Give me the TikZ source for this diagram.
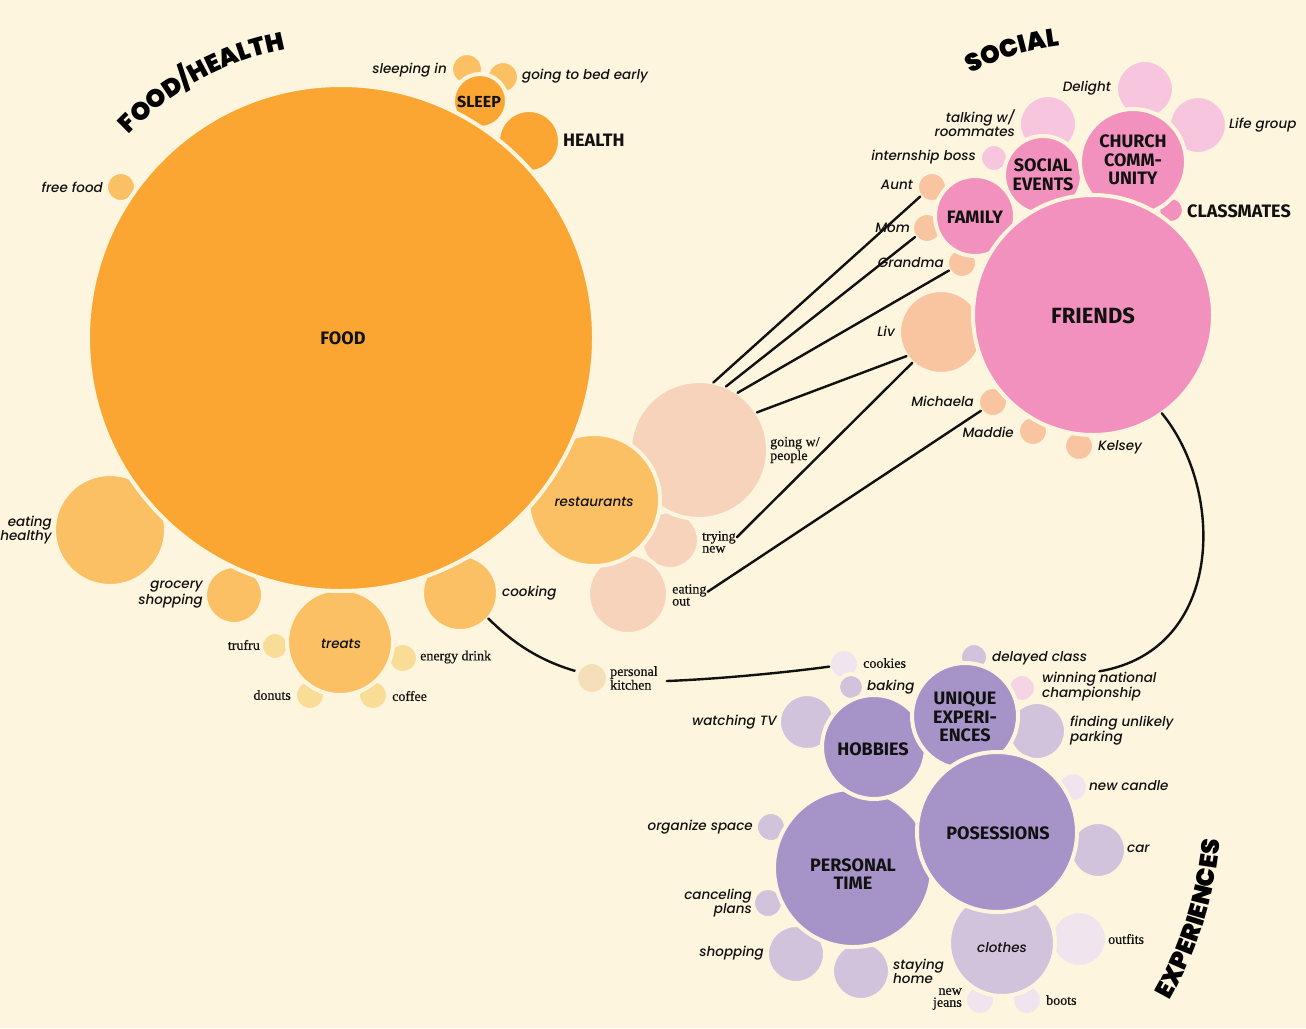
\documentclass[tikz,border=0pt]{standalone}
\usepackage{fontspec}
\setmainfont{Fira Sans}
\newfontfamily\popf{Poppins}[ItalicFont={Poppins Medium Italic}]
\newfontfamily\firaf{Fira Sans}
\newfontfamily\serf{Liberation Serif}[FakeBold=0.5]
\newfontfamily\titlefont{Poppins Black}
\newcommand\titlefs{\titlefont\fontsize{25}{25}\selectfont}
\usetikzlibrary{decorations.text}
\definecolor{bg}{HTML}{FEF5DF}
\definecolor{ink}{HTML}{111111}
\definecolor{o1}{HTML}{FBA632}
\definecolor{o2}{HTML}{FBC064}
\definecolor{o3}{HTML}{F9DD97}
\definecolor{pe}{HTML}{F8D3BC}
\definecolor{kit}{HTML}{F4DFB8}
\definecolor{pk1}{HTML}{F391BE}
\definecolor{pk2}{HTML}{F8C5DE}
\definecolor{pe2}{HTML}{F9C4A0}
\definecolor{pu1}{HTML}{A693C7}
\definecolor{pu2}{HTML}{D1C3DB}
\definecolor{pu3}{HTML}{F0E5EE}
\definecolor{win}{HTML}{F5D4E6}
\tikzset{
  bub/.style={circle, draw=bg, line width=4pt, inner sep=0pt, outer sep=0pt, minimum size={2*#1pt+4pt}},
  it/.style={font=\popf\itshape\fontsize{13.5}{14}\selectfont, inner sep=1pt, text=ink},
  sf/.style={font=\serf\fontsize{14}{12}\selectfont, inner sep=1pt, text=ink},
  bd/.style={font=\firaf\bfseries\fontsize{18}{18.5}\selectfont, inner sep=1pt, text=ink, align=center},
  conn/.style={draw=ink, line width=2.4pt, line cap=round},
  ttl/.style={decorate, decoration={text along path, text align=center, text={|\titlefs|#1}}},
}
\begin{document}
\begin{tikzpicture}[x=1pt,y=1pt]
\fill[bg] (0,0) rectangle (1306,-1028);
\useasboundingbox (0,0) rectangle (1306,-1028);

% ---------- FOOD / HEALTH ----------
\node[bub=14, fill=o2] (sleepin) at (467,-69) {};
\node[bub=14, fill=o2] (bedearly) at (503,-77) {};
\node[bub=13, fill=o2] (freefood) at (121,-187) {};
\node[bub=12, fill=o3] (trufru) at (275,-646) {};
\node[bub=13, fill=o3] (energy) at (403,-658) {};
\node[bub=13, fill=o3] (donuts) at (310,-695) {};
\node[bub=13, fill=o3] (coffee) at (373,-695) {};
\node[bub=27, fill=pe] (tryingnew) at (670,-540) {};
\node[bub=38, fill=pe] (eatingout) at (628,-594) {};
\node[bub=67, fill=pe] (gwp) at (699,-450) {};
\node[bub=54, fill=o2] (eathealthy) at (110,-530) {};
\node[bub=27, fill=o2] (grocery) at (234,-595) {};
\node[bub=51, fill=o2] (treats) at (340,-642) {};
\node[bub=36, fill=o2] (cooking) at (460,-593) {};
\node[bub=25, fill=o1] (sleep) at (480,-101) {};
\node[bub=29, fill=o1] (health) at (529,-141) {};
\node[bub=64, fill=o2] (restaurants) at (594,-500) {};
\node[bub=251, fill=o1] (food) at (341,-338) {};

% kitchen: label, curve under circle, circle
\node[sf, anchor=west, align=left] (l-kitchen) at (609,-678) {personal\\kitchen};
\draw[conn] (cooking.-42) .. controls (515,-645) and (550,-670) .. (l-kitchen.west);
\node[bub=14, fill=kit] (kitchen) at (592,-678) {};

% ---------- SOCIAL ----------
\node[bub=12, fill=pk2] (internboss) at (994,-158) {};
\node[bub=27, fill=pk2] (talking) at (1048,-124) {};
\node[bub=27, fill=pk2] (delight) at (1145,-89) {};
\node[bub=27, fill=pk2] (lifegroup) at (1198,-125) {};
\node[bub=13, fill=pe2] (aunt) at (932,-187) {};
\node[bub=13, fill=pe2] (mom) at (927,-228) {};
\node[bub=13, fill=pe2] (grandma) at (962,-263) {};
\node[bub=40, fill=pe2] (liv) at (941,-332) {};
\node[bub=13, fill=pe2] (michaela) at (993,-402) {};
\node[bub=13, fill=pe2] (maddie) at (1033,-431) {};
\node[bub=13, fill=pe2] (kelsey) at (1079,-446) {};
\node[bub=11, fill=pk1] (classmates) at (1171,-210) {};
\node[bub=38, fill=pk1] (family) at (975,-216) {};
\node[bub=37, fill=pk1] (socialev) at (1043,-175) {};
\node[bub=51, fill=pk1] (church) at (1133,-162) {};
\node[bub=118, fill=pk1] (friends) at (1093,-315) {};

% ---------- EXPERIENCES ----------
\node[bub=13, fill=pu3] (cookies) at (844,-664) {};
\node[bub=11, fill=pu2] (baking) at (851,-687) {};
\node[bub=26, fill=pu2] (watchtv) at (807,-722) {};
\node[bub=12, fill=pu2] (delayed) at (974,-657) {};
\node[bub=12, fill=win] (winning) at (1022,-688) {};
\node[bub=27, fill=pu2] (parking) at (1037,-731) {};
\node[bub=13, fill=pu3] (newcandle) at (1073,-787) {};
\node[bub=26, fill=pu2] (car) at (1098,-850) {};
\node[bub=13, fill=pu2] (organize) at (771,-827) {};
\node[bub=13, fill=pu2] (canceling) at (768,-903) {};
\node[bub=27, fill=pu2] (shopping) at (796,-954) {};
\node[bub=27, fill=pu2] (staying) at (861,-971) {};
\node[bub=26, fill=pu3] (outfits) at (1079,-939) {};
\node[bub=13, fill=pu3] (newjeans) at (980,-1000) {};
\node[bub=13, fill=pu3] (boots) at (1027,-1000) {};
\node[bub=51, fill=pu2] (clothes) at (1002,-943) {};
\node[bub=77, fill=pu1] (ptime) at (853,-868) {};
\node[bub=50, fill=pu1] (hobbies) at (874,-747) {};
\node[bub=51, fill=pu1] (unique) at (965,-716) {};
\node[bub=78, fill=pu1] (posessions) at (997,-832) {};

% ---------- labels ----------
\node[it, anchor=east] (l-sleepin) at (448,-70) {sleeping in};
\node[it, anchor=west] (l-bedearly) at (521,-76) {going to bed early};
\node[bd, anchor=west] (l-health) at (562,-140) {HEALTH};
\node[bd, font=\firaf\bfseries\fontsize{16}{16}\selectfont] (l-sleep) at (479,-102) {SLEEP};
\node[it, anchor=east] (l-freefood) at (104,-187) {free food};
\node[bd] (l-food) at (343,-338) {FOOD};
\node[it, anchor=east, align=right] (l-eathealthy) at (53,-530) {eating\\healthy};
\node[it, anchor=east, align=right, font=\popf\itshape\fontsize{13.5}{16}\selectfont] (l-grocery) at (204,-595) {grocery\\shopping};
\node[it] (l-treats) at (341,-644) {treats};
\node[sf, anchor=east] (l-trufru) at (261,-645) {trufru};
\node[sf, anchor=west] (l-energy) at (419,-657) {energy drink};
\node[sf, anchor=east] (l-donuts) at (292,-695) {donuts};
\node[sf, anchor=west] (l-coffee) at (391,-696) {coffee};
\node[it, anchor=west] (l-cooking) at (501,-593) {cooking};
\node[it] (l-restaurants) at (594,-502) {restaurants};
\node[sf, anchor=west, align=left] (l-gwp) at (769,-450) {going w/\\people};
\node[sf, anchor=west, align=left] (l-tryingnew) at (701,-542) {trying\\new};
\node[sf, anchor=west, align=left] (l-eatingout) at (671,-595) {eating\\out};

\node[it, anchor=east] (l-delight) at (1112,-88) {Delight};
\node[it, anchor=west] (l-lifegroup) at (1228,-125) {Life group};
\node[it, anchor=east, align=right, font=\popf\itshape\fontsize{13.5}{12.5}\selectfont] (l-talking) at (1016,-123) {talking w/\\roommates};
\node[it, anchor=east] (l-internboss) at (977,-157) {internship boss};
\node[bd] (l-socialev) at (1043,-175) {SOCIAL\\EVENTS};
\node[bd] (l-church) at (1133,-160) {CHURCH\\COMM-\\UNITY};
\node[bd, anchor=west] (l-classmates) at (1186,-211) {CLASSMATES};
\node[it, anchor=east] (l-aunt) at (914,-185) {Aunt};
\node[it, anchor=east] (l-mom) at (911,-228) {Mom};
\node[bd] (l-family) at (975,-217) {FAMILY};
\node[it, anchor=east] (l-grandma) at (945,-263) {Grandma};
\node[bd, font=\firaf\bfseries\fontsize{22}{22}\selectfont] (l-friends) at (1093,-316) {FRIENDS};
\node[it, anchor=east] (l-liv) at (896,-331) {Liv};
\node[it, anchor=east] (l-michaela) at (975,-401) {Michaela};
\node[it, anchor=east] (l-maddie) at (1015,-432) {Maddie};
\node[it, anchor=west] (l-kelsey) at (1097,-447) {Kelsey};

\node[sf, anchor=west] (l-cookies) at (862,-663) {cookies};
\node[it, anchor=west] (l-baking) at (866,-687) {baking};
\node[it, anchor=west] (l-delayed) at (991,-658) {delayed class};
\node[it, anchor=west, align=left, font=\popf\itshape\fontsize{13.5}{13}\selectfont] (l-winning) at (1041,-687) {winning national\\championship};
\node[it, anchor=east] (l-watchtv) at (778,-722) {watching TV};
\node[bd] (l-hobbies) at (873,-749) {HOBBIES};
\node[bd] (l-unique) at (965,-717) {UNIQUE\\EXPERI-\\ENCES};
\node[it, anchor=west, align=left] (l-parking) at (1069,-731) {finding unlikely\\parking};
\node[it, anchor=west] (l-newcandle) at (1088,-786) {new candle};
\node[bd] (l-posessions) at (998,-833) {POSESSIONS};
\node[it, anchor=west] (l-car) at (1126,-849) {car};
\node[it, anchor=east] (l-organize) at (754,-827) {organize space};
\node[bd] (l-ptime) at (853,-874) {PERSONAL\\TIME};
\node[it, anchor=east, align=right, font=\popf\itshape\fontsize{13.5}{12.5}\selectfont] (l-canceling) at (753,-903) {canceling\\plans};
\node[it, anchor=east] (l-shopping) at (765,-953) {shopping};
\node[it, anchor=west, align=left] (l-staying) at (892,-971) {staying\\home};
\node[it] (l-clothes) at (1002,-948) {clothes};
\node[sf, anchor=west] (l-outfits) at (1107,-939) {outfits};
\node[sf, anchor=east, align=right] (l-newjeans) at (963,-999) {new\\jeans};
\node[sf, anchor=west] (l-boots) at (1045,-1000) {boots};

% ---------- connectors ----------
\draw[conn] (gwp.78) -- (aunt.219);
\draw[conn] (gwp.67) -- (mom.217);
\draw[conn] (gwp.56) -- (grandma.210);
\draw[conn] (gwp.33) -- (liv.215);
\draw[conn] (l-tryingnew.15) -- (liv.227);
\draw[conn] (l-eatingout.10) -- (michaela.216);
\coordinate (kstart) at ([xshift=8pt,yshift=-3pt]l-kitchen.east);
\draw[conn] (kstart) .. controls (720,-679) and (790,-672) .. (cookies.190);
\draw[conn] (friends.-55) .. controls (1225,-490) and (1225,-650) .. (l-winning.north);

% ---------- titles ----------
\path[ttl={FOOD/HEALTH}] (341,-338) ++(148:294) arc[start angle=148, end angle=89, radius=294];
\path[ttl={SOCIAL}] (1093,-315) ++(127:271) arc[start angle=127, end angle=87, radius=271];
\path[ttl={EXPERIENCES}] (822,-803) ++(-45:400) arc[start angle=-45, end angle=10, radius=400];
\end{tikzpicture}
\end{document}
